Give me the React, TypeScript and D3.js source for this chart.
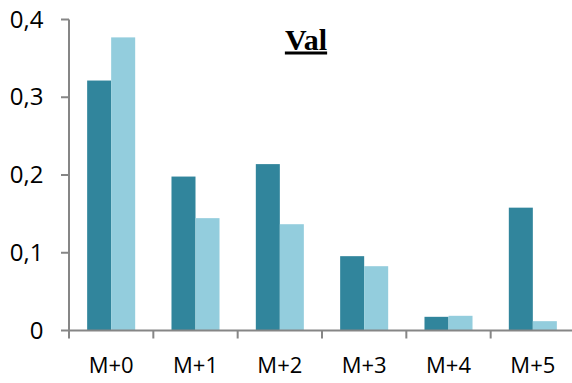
import React from "react";
import * as d3 from "d3";

const categories = ["M+0", "M+1", "M+2", "M+3", "M+4", "M+5"];
const seriesNames = ["A", "B"];
const seriesA = [0.3215, 0.198, 0.214, 0.0956, 0.0176, 0.158];
const seriesB = [0.377, 0.1445, 0.1367, 0.0827, 0.0189, 0.012];
const yTicks = [0, 0.1, 0.2, 0.3, 0.4];
const yTickLabels = ["0", "0,1", "0,2", "0,3", "0,4"];
const title = "Val";

const colors = ["#31859C", "#93CDDD"];
const axisColor = "#868686";

export default function App() {
  const W = 572, H = 383;
  const x0 = 69, x1 = 575;
  const y = d3.scaleLinear().domain([0, 0.4]).range([330.5, 19.5]);
  const x = d3.scaleBand<string>().domain(categories).range([x0, x1]).paddingInner(0).paddingOuter(0);
  const xs = d3.scaleBand<string>().domain(seriesNames).range([0, x.bandwidth()]).paddingInner(0).paddingOuter(0.756);
  const values = [seriesA, seriesB];
  const font = "'Open Sans', 'Noto Sans', sans-serif";
  return (
    <svg width={W} height={H} style={{ position: "absolute", left: 0, top: 0, background: "#fff" }}>
      {categories.map((c, i) =>
        seriesNames.map((s, j) => {
          const v = values[j][i];
          return (
            <rect key={c + s} x={(x(c) ?? 0) + (xs(s) ?? 0)} y={y(v)} width={xs.bandwidth()} height={y(0) - y(v)} fill={colors[j]} />
          );
        })
      )}
      <line x1={x0} x2={x0} y1={y(0.4)} y2={y(0)} stroke={axisColor} strokeWidth={2} />
      {yTicks.map((t, i) => (
        <g key={t}>
          <line x1={x0 - 8} x2={x0} y1={y(t)} y2={y(t)} stroke={axisColor} strokeWidth={2} />
          <text x={43.5} y={y(t)} dy="0.34em" textAnchor="end" fontFamily={font} fontSize={24} fill="#000">
            {yTickLabels[i]}
          </text>
        </g>
      ))}
      <line x1={x0 - 1} x2={x1} y1={y(0)} y2={y(0)} stroke={axisColor} strokeWidth={2} />
      {categories.map((c) => (
        <line key={c} x1={x(c) ?? 0} x2={x(c) ?? 0} y1={y(0)} y2={y(0) + 8} stroke={axisColor} strokeWidth={2} />
      ))}
      {categories.map((c) => (
        <text key={c} x={(x(c) ?? 0) + x.bandwidth() / 2} y={373.3} textAnchor="middle" fontFamily={font} fontSize={22} fill="#000">
          {c}
        </text>
      ))}
      <text x={306} y={49.5} textAnchor="middle" fontFamily="'Liberation Serif', 'Times New Roman', serif" fontWeight="bold" fontSize={30} fill="#000" textDecoration="underline">
        {title}
      </text>
    </svg>
  );
}
